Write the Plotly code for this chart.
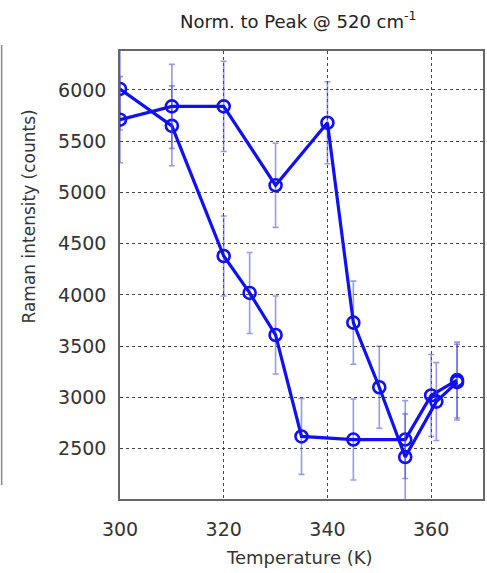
import plotly.graph_objects as go

# Series 1 (starts high at 300 K, drops early)
t1 = [300, 310, 320, 325, 330, 335, 345, 355, 360, 365]
i1 = [6010, 5650, 4380, 4020, 3610, 2620, 2590, 2590, 3020, 3170]
e1 = [400, 390, 390, 395, 380, 370, 395, 380, 400, 370]

# Series 2 (starts lower at 300 K, drops late)
t2 = [300, 310, 320, 330, 340, 345, 350, 355, 361, 365]
i2 = [5710, 5840, 5840, 5070, 5680, 3730, 3100, 2420, 2960, 3150]
e2 = [420, 410, 440, 410, 400, 405, 400, 420, 380, 370]

x_ticks = [300, 320, 340, 360]
y_ticks = [2500, 3000, 3500, 4000, 4500, 5000, 5500, 6000]

title_text = "Norm. to Peak @ 520 cm<sup>-1</sup>"
x_title = "Temperature (K)"
y_title = "Raman intensity (counts)"

line_col = "#1010f5"
err_col = "rgba(70,70,220,0.55)"

fig = go.Figure()
for t, v, e in [(t1, i1, e1), (t2, i2, e2)]:
    fig.add_trace(go.Scatter(
        x=t, y=v, mode="lines+markers",
        line=dict(color=line_col, width=3.2),
        marker=dict(symbol="circle-open", size=12, color=line_col,
                    line=dict(width=2.6, color=line_col)),
        error_y=dict(type="data", array=e, visible=True, color=err_col,
                     thickness=1.6, width=3),
        showlegend=False, cliponaxis=True,
    ))

axis_font = dict(family="DejaVu Sans", size=19, color="#333")
fig.update_xaxes(range=[300, 370], tickvals=x_ticks, showgrid=True,
                 gridcolor="#444", griddash="3px,3px", gridwidth=1,
                 showline=True, linecolor="#666", linewidth=1.5, mirror=True,
                 zeroline=False, tickfont=axis_font, ticks="",
                 ticklabelstandoff=12)
fig.update_yaxes(range=[2010, 6380], tickvals=y_ticks, showgrid=True,
                 gridcolor="#444", griddash="3px,3px", gridwidth=1,
                 showline=True, linecolor="#666", linewidth=1.5, mirror=True,
                 zeroline=False, tickfont=axis_font, ticks="",
                 ticklabelstandoff=8)

fig.add_annotation(text=title_text, xref="paper", yref="paper",
                   x=(299 - 120) / 365, y=(499 - 20) / 448,
                   showarrow=False, xanchor="center", yanchor="middle",
                   font=dict(family="DejaVu Sans", size=18, color="#222"))
fig.add_annotation(text=x_title, xref="paper", yref="paper",
                   x=(300 - 120) / 365, y=(499 - 557) / 448,
                   showarrow=False, xanchor="center", yanchor="middle",
                   font=dict(family="DejaVu Sans", size=18, color="#333"))
fig.add_annotation(text=y_title, xref="paper", yref="paper",
                   x=(28 - 120) / 365, y=(499 - 217) / 448, textangle=-90,
                   showarrow=False, xanchor="center", yanchor="middle",
                   font=dict(family="DejaVu Sans", size=17, color="#333"))

fig.add_shape(type="line", xref="paper", yref="paper",
              x0=(1 - 120) / 365, x1=(1 - 120) / 365,
              y0=(499 - 45) / 448, y1=(499 - 485) / 448,
              line=dict(color="#888", width=1.5))

fig.update_layout(width=487, height=573,
                  margin=dict(l=120, r=2, t=51, b=74),
                  paper_bgcolor="white", plot_bgcolor="white")

fig.write_html("out.html", config={"displayModeBar": False},
               post_script="document.body.style.margin='0';"
                           "document.body.style.overflow='hidden';")
